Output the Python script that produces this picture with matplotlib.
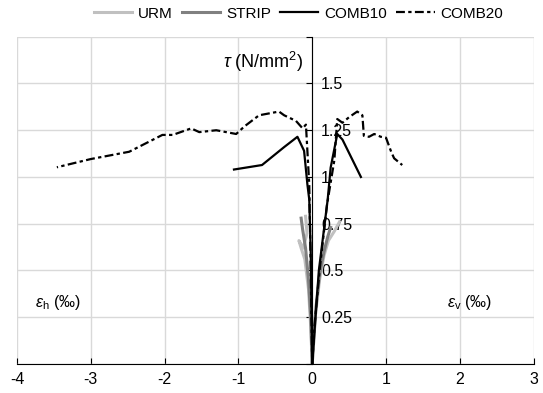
import matplotlib
matplotlib.use('Agg')
import matplotlib.pyplot as plt

plt.rcParams['font.family'] = ['Liberation Sans', 'DejaVu Sans']
plt.rcParams['mathtext.fontset'] = 'custom'
plt.rcParams['mathtext.rm'] = 'Liberation Sans'
plt.rcParams['mathtext.it'] = 'Liberation Sans:italic'
plt.rcParams['axes.unicode_minus'] = False

# left branch = eps_h (negative), right branch = eps_v (positive)
urm_h_x = [0, -0.02, -0.05, -0.1, -0.15, -0.18, -0.12, -0.07, -0.09]
urm_h_y = [0, 0.2, 0.4, 0.56, 0.62, 0.66, 0.62, 0.7, 0.79]
urm_v_x = [0, 0.04, 0.1, 0.16, 0.22, 0.3, 0.37]
urm_v_y = [0, 0.25, 0.45, 0.58, 0.66, 0.71, 0.76]

strip_h_x = [0, -0.02, -0.05, -0.09, -0.13, -0.15]
strip_h_y = [0, 0.25, 0.45, 0.62, 0.72, 0.78]
strip_v_x = [0, 0.05, 0.1, 0.16, 0.21, 0.25]
strip_v_y = [0, 0.3, 0.48, 0.6, 0.68, 0.73]

comb10_h_x = [0, -0.01, -0.02, -0.04, -0.065, -0.11, -0.2, -0.38, -0.68, -1.06]
comb10_h_y = [0, 0.3, 0.6, 0.88, 0.96, 1.14, 1.215, 1.16, 1.064, 1.04]
comb10_v_x = [0, 0.03, 0.09, 0.21, 0.25, 0.34, 0.41, 0.66]
comb10_v_y = [0, 0.17, 0.5, 0.88, 1.05, 1.23, 1.2, 1.0]

comb20_h_x = [0, -0.02, -0.04, -0.085, -0.13, -0.22, -0.38, -0.45, -0.72, -0.92,
              -1.03, -1.3, -1.53, -1.64, -1.89, -2.03, -2.48, -3.0, -3.46]
comb20_h_y = [0, 0.5, 0.96, 1.28, 1.26, 1.3, 1.33, 1.35, 1.33, 1.27,
              1.23, 1.25, 1.24, 1.26, 1.225, 1.225, 1.135, 1.096, 1.052]
comb20_v_x = [0, 0.03, 0.1, 0.2, 0.3, 0.34, 0.41, 0.5, 0.61, 0.68, 0.7,
              0.77, 0.84, 0.93, 1.0, 1.07, 1.11, 1.22]
comb20_v_y = [0, 0.2, 0.5, 0.85, 1.09, 1.31, 1.29, 1.32, 1.35, 1.33, 1.22,
              1.215, 1.23, 1.215, 1.21, 1.135, 1.1, 1.064]

x_ticks = [-4, -3, -2, -1, 0, 1, 2, 3]
y_ticks = [0, 0.25, 0.5, 0.75, 1, 1.25, 1.5, 1.75]
y_labels = ['', '0.25', '0.5', '0.75', '1', '1.25', '1.5', '']

fig = plt.figure(figsize=(5.43, 3.93), dpi=100)
ax = fig.add_axes([0.0313, 0.0738, 0.9514, 0.8327])

ax.plot(urm_h_x, urm_h_y, color='#c0c0c0', lw=2.2, label='URM')
ax.plot(urm_v_x, urm_v_y, color='#c0c0c0', lw=2.2)
ax.plot(strip_h_x, strip_h_y, color='#808080', lw=2.2, label='STRIP')
ax.plot(strip_v_x, strip_v_y, color='#808080', lw=2.2)
ax.plot(comb10_h_x, comb10_h_y, color='black', lw=1.6, label='COMB10')
ax.plot(comb10_v_x, comb10_v_y, color='black', lw=1.6)
ax.plot(comb20_h_x, comb20_h_y, color='black', lw=1.6, dashes=(4, 1.5, 1.5, 1.5), label='COMB20')
ax.plot(comb20_v_x, comb20_v_y, color='black', lw=1.6, dashes=(4, 1.5, 1.5, 1.5))

ax.set_xlim(-4, 3)
ax.set_ylim(0, 1.75)
ax.set_xticks(x_ticks)
ax.set_yticks(y_ticks)
ax.set_yticklabels(y_labels)

ax.spines['left'].set_position(('data', 0))
ax.spines['top'].set_visible(False)
ax.spines['right'].set_visible(False)
ax.grid(True, color='#d9d9d9', lw=1)
ax.set_axisbelow(True)
ax.tick_params(axis='x', direction='in', length=4, labelsize=11.5, pad=6)
ax.tick_params(axis='y', direction='out', length=4, labelsize=11.5, pad=-10.5)
for tick in ax.yaxis.get_major_ticks():
    tick.label1.set_horizontalalignment('left')

ax.text(-0.12, 1.615, r'$\tau$ (N/mm$^2$)', ha='right', va='center', fontsize=13)
ax.text(-3.75, 0.33, r'$\epsilon_{\rm h}$ (‰)', ha='left', va='center', fontsize=11.5)
ax.text(1.83, 0.33, r'$\epsilon_{\rm v}$ (‰)', ha='left', va='center', fontsize=11.5)

ax.legend(ncol=4, loc='center', bbox_to_anchor=(0.545, 1.07), frameon=False,
          fontsize=11, handlelength=2.5, handletextpad=0.4, columnspacing=0.6,
          borderaxespad=0)

fig.savefig('out.png', dpi=100)
